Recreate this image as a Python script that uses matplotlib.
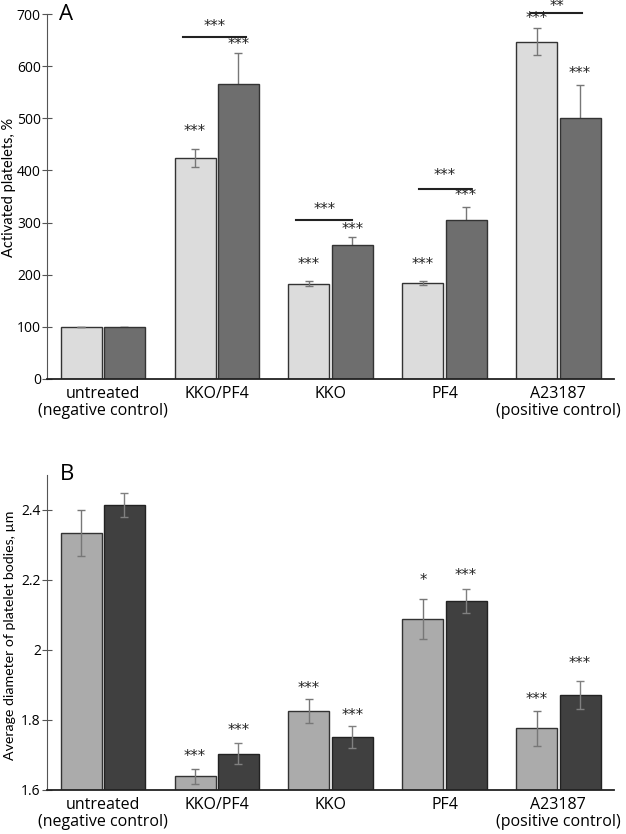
import numpy as np
import matplotlib.pyplot as plt

plt.rcParams['font.family'] = ['Open Sans', 'DejaVu Sans']

groups = ['untreated\n(negative control)', 'KKO/PF4', 'KKO', 'PF4', 'A23187\n(positive control)']

# panel A: activated platelets, %
a_light = [100, 424, 183, 184, 647]
a_light_err = [0, 17, 5, 3, 26]
a_dark = [100, 566, 257, 304, 501]
a_dark_err = [0, 60, 15, 25, 62]
a_light_stars = ['', '***', '***', '***', '***']
a_light_star_y = [0, 474, 219, 219, 692]
a_dark_stars = ['', '***', '***', '***', '***']
a_dark_star_y = [0, 641, 286, 352, 586]
a_pair_stars = ['', '***', '***', '***', '**']
a_pair_y = [0, 656, 304, 364, 702]
a_pair_text_y = [0, 676, 326, 390, 714]
a_pair_left = [0, 0.30, 0.30, 0.22, 0.24]
a_pair_right = [0, 0.26, 0.19, 0.23, 0.21]

# panel B: average diameter of platelet bodies, um
b_light = [2.335, 1.639, 1.826, 2.089, 1.776]
b_light_err = [0.066, 0.021, 0.034, 0.058, 0.051]
b_dark = [2.415, 1.704, 1.752, 2.140, 1.872]
b_dark_err = [0.034, 0.031, 0.031, 0.033, 0.040]
b_light_stars = ['', '***', '***', '*', '***']
b_light_star_y = [0, 1.697, 1.889, 2.198, 1.859]
b_dark_stars = ['', '***', '***', '***', '***']
b_dark_star_y = [0, 1.771, 1.813, 2.214, 1.962]

x = np.arange(len(groups))
w = 0.36
off = 0.19

fig = plt.figure(figsize=(6.26, 8.34), dpi=100)
axA = fig.add_axes([0.0751, 0.5456, 0.906, 0.4376])
axB = fig.add_axes([0.0751, 0.0528, 0.906, 0.3777])


def style(ax):
    for s in ['top', 'right']:
        ax.spines[s].set_visible(False)
    ax.spines['left'].set_color('#555555')
    ax.spines['bottom'].set_color('#222222')
    ax.spines['bottom'].set_linewidth(1.3)
    ax.tick_params(axis='y', direction='inout', length=7, color='#555555', labelsize=10, pad=1)
    ax.tick_params(axis='x', length=0, labelsize=11.5, pad=5)
    ax.set_xticks(x)
    ax.set_xticklabels(groups, linespacing=1.1)
    ax.set_xlim(-0.49, 4.49)


def stars(ax, xs, ys, labels):
    for xi, yi, s in zip(xs, ys, labels):
        if s:
            ax.text(xi, yi, s, ha='center', va='center', fontsize=10.5, color='#222222',
                    family='DejaVu Sans', clip_on=False)


# A
axA.bar(x - off, a_light, w, color='#dcdcdc', edgecolor='#333333', linewidth=1.0, zorder=1)
axA.bar(x + off, a_dark, w, color='#6e6e6e', edgecolor='#333333', linewidth=1.0, zorder=1)
axA.errorbar(x - off, a_light, yerr=a_light_err, fmt='none', ecolor='#777777', elinewidth=1,
             capsize=3, zorder=2)
axA.errorbar(x + off, a_dark, yerr=a_dark_err, fmt='none', ecolor='#777777', elinewidth=1,
             capsize=3, zorder=0.5)
stars(axA, x - off, a_light_star_y, a_light_stars)
stars(axA, x + off, a_dark_star_y, a_dark_stars)
for i in range(1, len(groups)):
    x0, x1 = x[i] - a_pair_left[i], x[i] + a_pair_right[i]
    axA.plot([x0, x1], [a_pair_y[i]] * 2, color='#222222', lw=1.5, clip_on=False)
    stars(axA, [(x0 + x1) / 2], [a_pair_text_y[i]], [a_pair_stars[i]])
axA.set_ylim(0, 700)
axA.set_yticks(range(0, 701, 100))
axA.set_ylabel('Activated platelets, %', fontsize=10.5, family='Lato')
axA.yaxis.set_label_coords(-0.055, 0.526)
style(axA)
axA.text(0.022, 1.0, 'A', transform=axA.transAxes, fontsize=16, va='center', ha='left')

# B
axB.bar(x - off, b_light, w, color='#ababab', edgecolor='#333333', linewidth=1.0)
axB.bar(x + off, b_dark, w, color='#404040', edgecolor='#222222', linewidth=1.0)
axB.errorbar(x - off, b_light, yerr=b_light_err, fmt='none', ecolor='#777777', elinewidth=1, capsize=3)
axB.errorbar(x + off, b_dark, yerr=b_dark_err, fmt='none', ecolor='#808080', elinewidth=1, capsize=3)
stars(axB, x - off, b_light_star_y, b_light_stars)
stars(axB, x + off, b_dark_star_y, b_dark_stars)
axB.set_ylim(1.6, 2.5)
axB.set_yticks([1.6, 1.8, 2.0, 2.2, 2.4])
axB.set_yticklabels(['1.6', '1.8', '2', '2.2', '2.4'])
axB.set_ylabel('Average diameter of platelet bodies, µm', fontsize=10.2, family='Lato')
axB.yaxis.set_label_coords(-0.055, 0.492)
style(axB)
axB.text(0.022, 1.0, 'B', transform=axB.transAxes, fontsize=16, va='center', ha='left')

fig.savefig('out.png', dpi=100)
